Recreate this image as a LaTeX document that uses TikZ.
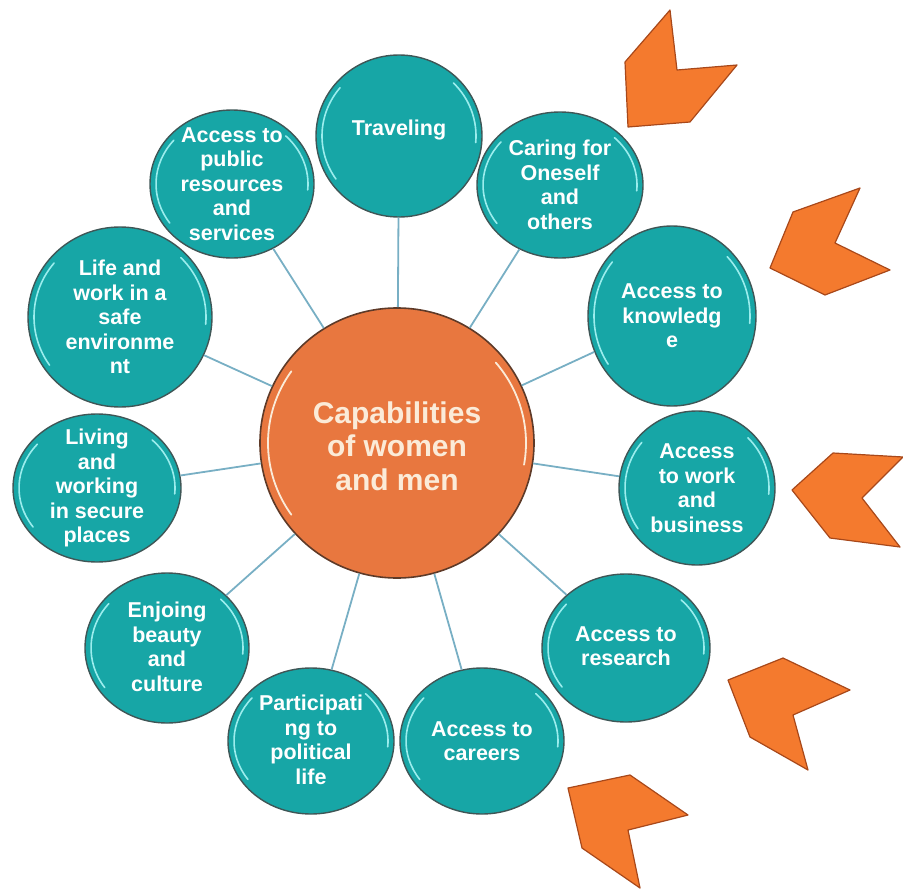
\documentclass[tikz,border=0pt]{standalone}
\usepackage{fontspec}
\setmainfont{Liberation Sans}
\usetikzlibrary{shapes.geometric}
\definecolor{teal1}{HTML}{17A6A6}
\definecolor{rim}{HTML}{3F5656}
\definecolor{org}{HTML}{E8773F}
\definecolor{orgrim}{HTML}{5E3A28}
\definecolor{chev}{HTML}{F47A2E}
\definecolor{chevd}{HTML}{A8481A}
\definecolor{lnk}{HTML}{78AFC4}
\definecolor{hlc}{HTML}{9BEDED}
\definecolor{ctxt}{HTML}{FBEBD8}
\tikzset{
 bub/.style={ellipse, draw=rim, line width=1.4pt, fill=teal1, inner sep=0pt},
 hub/.style={ellipse, draw=orgrim, line width=1.6pt, fill=org, inner sep=0pt},
 hl/.style={draw=hlc, line width=1.6pt, line cap=round},
 txt/.style={align=center, text=white, font=\bfseries\fontsize{21.5}{24.5}\selectfont},
 ctx/.style={align=center, text=ctxt, font=\bfseries\fontsize{30}{33.5}\selectfont},
 lnkline/.style={draw=lnk, line width=1.8pt},
 chevron/.style={fill=chev, draw=chevd, line width=1.2pt, line join=round}
}
\newcommand\mkbub[7]{% name, x, y, rx, ry, text, text dy
 \node[bub, minimum width=2pt*#4, minimum height=2pt*#5] (#1) at (#2,#3) {};
 \pgfmathsetmacro\hrx{#4-6}\pgfmathsetmacro\hry{#5-6}
 \draw[hl] ([shift={(#2,#3)}]215:\hrx pt and \hry pt) arc[start angle=215, end angle=140, x radius=\hrx pt, y radius=\hry pt];
 \draw[hl] ([shift={(#2,#3)}]45:\hrx pt and \hry pt) arc[start angle=45, end angle=-5, x radius=\hrx pt, y radius=\hry pt];
 \node[txt] (#1t) at (#2,#3+#7) {#6};
}
\begin{document}
\begin{tikzpicture}[x=1pt,y=-1pt]
\path[use as bounding box] (0,0) rectangle (903,894);
% hub
\node[hub, minimum width=274pt, minimum height=270pt] (hubc) at (397,443) {};
\draw[draw=ctxt, line width=1.8pt, line cap=round] ([shift={(397,443)}]215:129pt and 125pt) arc[start angle=215, end angle=145, x radius=129pt, y radius=125pt];
\draw[draw=ctxt, line width=1.8pt, line cap=round] ([shift={(397,443)}]40:129pt and 125pt) arc[start angle=40, end angle=-10, x radius=129pt, y radius=125pt];
\node[ctx] (hubt) at (397,446) {Capabilities\\of women\\and men};
% bubbles
\mkbub{trav}{399}{136}{83}{81}{Traveling}{-6}
\mkbub{care}{560}{185}{83}{73}{Caring for\\Oneself\\and\\others}{0}
\mkbub{know}{672}{316}{84}{90}{Access to\\knowledg\\e}{0}
\mkbub{work}{697}{488}{78}{77}{Access\\to work\\and\\business}{0}
\mkbub{rsch}{626}{648}{84}{74}{Access to\\research}{-2}
\mkbub{carr}{482}{741}{82}{73}{Access to\\careers}{0}
\mkbub{poli}{311}{741}{83}{73}{Participati\\ng to\\political\\life}{-1}
\mkbub{beau}{167}{648}{82}{75}{Enjoing\\beauty\\and\\culture}{-1}
\mkbub{secu}{97}{488}{84}{74}{Living\\and\\working\\in secure\\places}{0}
\mkbub{safe}{120}{317}{92}{90}{Life and\\work in a\\safe\\environme\\nt}{0}
\mkbub{publ}{232}{184}{82}{74}{Access to\\public\\resources\\and\\services}{0}
% connectors
\foreach \b in {trav,care,know,work,rsch,carr,poli,beau,secu,safe,publ}
 \draw[lnkline] (hubc) -- (\b);
% chevrons
\draw[chevron] (670,10) -- (677,70) -- (737,65) -- (690,122) -- (628,127) -- (625,62) -- cycle;
\draw[chevron] (860,188) -- (835,243) -- (890,270) -- (825,295) -- (770,268) -- (793,212) -- cycle;
\draw[chevron] (833,453) -- (903,457) -- (862,498) -- (900,547) -- (830,538) -- (792,490) -- cycle;
\draw[chevron] (783,658) -- (850,690) -- (793,715) -- (808,770) -- (750,737) -- (728,680) -- cycle;
\draw[chevron] (630,775) -- (688,815) -- (628,830) -- (640,888) -- (582,848) -- (568,788) -- cycle;
\end{tikzpicture}
\end{document}
